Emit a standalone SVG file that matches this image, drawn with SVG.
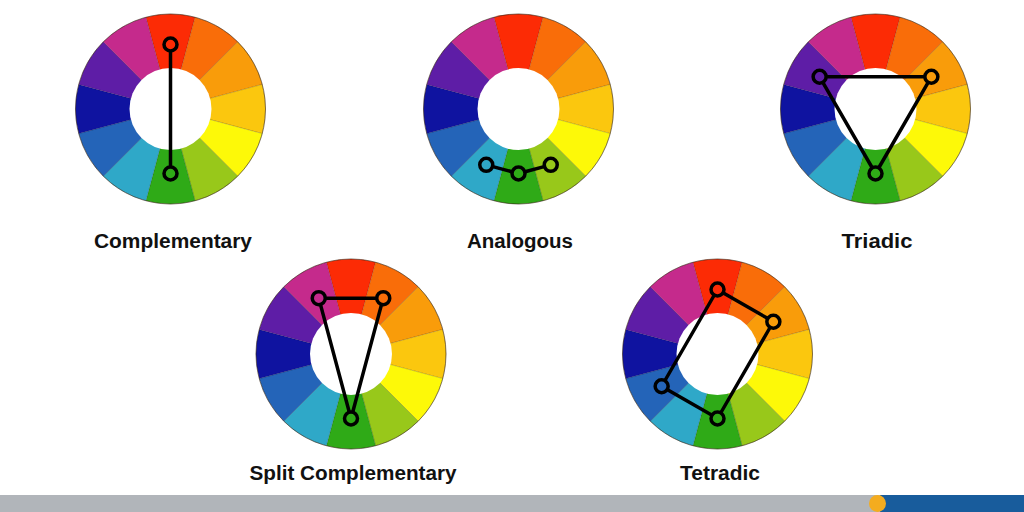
<svg xmlns="http://www.w3.org/2000/svg" xmlns:xlink="http://www.w3.org/1999/xlink" width="1024" height="512" viewBox="0 0 1024 512">
<style>
.seg{stroke:rgba(0,0,0,0.18);stroke-width:0.8}
.hole{fill:#ffffff}
.rim{fill:none;stroke:rgba(60,40,20,0.55);stroke-width:1}
.mk{fill:none;stroke:#000;stroke-width:3.5}
.ln{stroke:#000;stroke-width:3.5;stroke-linecap:round;fill:none}
.lbl{font-family:"Liberation Sans",Arial,sans-serif;font-weight:bold;font-size:19.5px;fill:#111111;text-anchor:middle}
</style>
<defs>
<g id="wheel">
<path class="seg" fill="#FC2B05" d="M0,0 L-24.59,-91.76 A95,95 0 0 1 24.59,-91.76 Z"/>
<path class="seg" fill="#F96D09" d="M0,0 L24.59,-91.76 A95,95 0 0 1 67.18,-67.18 Z"/>
<path class="seg" fill="#F99C0A" d="M0,0 L67.18,-67.18 A95,95 0 0 1 91.76,-24.59 Z"/>
<path class="seg" fill="#FBC70E" d="M0,0 L91.76,-24.59 A95,95 0 0 1 91.76,24.59 Z"/>
<path class="seg" fill="#FDF908" d="M0,0 L91.76,24.59 A95,95 0 0 1 67.18,67.18 Z"/>
<path class="seg" fill="#98C81A" d="M0,0 L67.18,67.18 A95,95 0 0 1 24.59,91.76 Z"/>
<path class="seg" fill="#2FAA17" d="M0,0 L24.59,91.76 A95,95 0 0 1 -24.59,91.76 Z"/>
<path class="seg" fill="#2FA8C8" d="M0,0 L-24.59,91.76 A95,95 0 0 1 -67.18,67.18 Z"/>
<path class="seg" fill="#2464B8" d="M0,0 L-67.18,67.18 A95,95 0 0 1 -91.76,24.59 Z"/>
<path class="seg" fill="#0F13A0" d="M0,0 L-91.76,24.59 A95,95 0 0 1 -91.76,-24.59 Z"/>
<path class="seg" fill="#5E1DA6" d="M0,0 L-91.76,-24.59 A95,95 0 0 1 -67.18,-67.18 Z"/>
<path class="seg" fill="#C52A8C" d="M0,0 L-67.18,-67.18 A95,95 0 0 1 -24.59,-91.76 Z"/>
<circle class="rim" cx="0" cy="0" r="95"/>
<circle class="hole" cx="0" cy="0" r="41"/>
</g>
</defs>
<rect width="1024" height="512" fill="#ffffff"/>

<g id="complementary">
<use xlink:href="#wheel" href="#wheel" x="170.5" y="109"/>
<circle class="mk" cx="170.5" cy="44.5" r="6.5"/>
<circle class="mk" cx="170.5" cy="173.5" r="6.5"/>
<text class="lbl" x="173" y="248" textLength="158" lengthAdjust="spacingAndGlyphs">Complementary</text>
</g>

<g id="analogous">
<use xlink:href="#wheel" href="#wheel" x="518.5" y="109"/>
<circle class="mk" cx="486.25" cy="164.86" r="6.5"/>
<circle class="mk" cx="518.5" cy="173.5" r="6.5"/>
<circle class="mk" cx="550.75" cy="164.86" r="6.5"/>
<text class="lbl" x="520" y="248" textLength="106" lengthAdjust="spacingAndGlyphs">Analogous</text>
</g>

<g id="triadic">
<use xlink:href="#wheel" href="#wheel" x="875.5" y="109"/>
<circle class="mk" cx="819.64" cy="76.75" r="6.5"/>
<circle class="mk" cx="931.36" cy="76.75" r="6.5"/>
<circle class="mk" cx="875.5" cy="173.5" r="6.5"/>
<text class="lbl" x="877" y="248" textLength="71" lengthAdjust="spacingAndGlyphs">Triadic</text>
</g>

<g id="split-complementary">
<use xlink:href="#wheel" href="#wheel" x="351" y="354"/>
<circle class="mk" cx="318.75" cy="298.14" r="6.5"/>
<circle class="mk" cx="383.25" cy="298.14" r="6.5"/>
<circle class="mk" cx="351" cy="418.5" r="6.5"/>
<text class="lbl" x="353" y="480" textLength="207" lengthAdjust="spacingAndGlyphs">Split Complementary</text>
</g>

<g id="tetradic">
<use xlink:href="#wheel" href="#wheel" x="717.5" y="354"/>
<circle class="mk" cx="717.5" cy="289.5" r="6.5"/>
<circle class="mk" cx="773.36" cy="321.75" r="6.5"/>
<circle class="mk" cx="717.5" cy="418.5" r="6.5"/>
<circle class="mk" cx="661.64" cy="386.25" r="6.5"/>
<text class="lbl" x="720" y="480" textLength="80" lengthAdjust="spacingAndGlyphs">Tetradic</text>
</g>

<g id="connectors">
<line class="ln" x1="170.5" y1="52.5" x2="170.5" y2="165.5"/>
<line class="ln" x1="493.78" y1="166.88" x2="510.97" y2="171.48"/>
<line class="ln" x1="526.03" y1="171.48" x2="543.22" y2="166.88"/>
<line class="ln" x1="827.44" y1="76.75" x2="923.56" y2="76.75"/>
<line class="ln" x1="927.46" y1="83.51" x2="879.4" y2="166.75"/>
<line class="ln" x1="871.6" y1="166.75" x2="823.54" y2="83.51"/>
<line class="ln" x1="326.55" y1="298.14" x2="375.45" y2="298.14"/>
<line class="ln" x1="381.23" y1="305.67" x2="353.02" y2="410.97"/>
<line class="ln" x1="348.98" y1="410.97" x2="320.77" y2="305.67"/>
<line class="ln" x1="724.26" y1="293.4" x2="766.6" y2="317.85"/>
<line class="ln" x1="769.46" y1="328.5" x2="721.4" y2="411.75"/>
<line class="ln" x1="710.75" y1="414.6" x2="668.4" y2="390.15"/>
<line class="ln" x1="665.54" y1="379.5" x2="713.6" y2="296.25"/>
</g>

<g id="footer">
<rect x="0" y="495" width="880" height="17" fill="#B1B5BA"/>
<rect x="880" y="495" width="144" height="17" fill="#185C9C"/>
<circle cx="877.5" cy="503.5" r="8.5" fill="#F4AC1F"/>
</g>
</svg>
